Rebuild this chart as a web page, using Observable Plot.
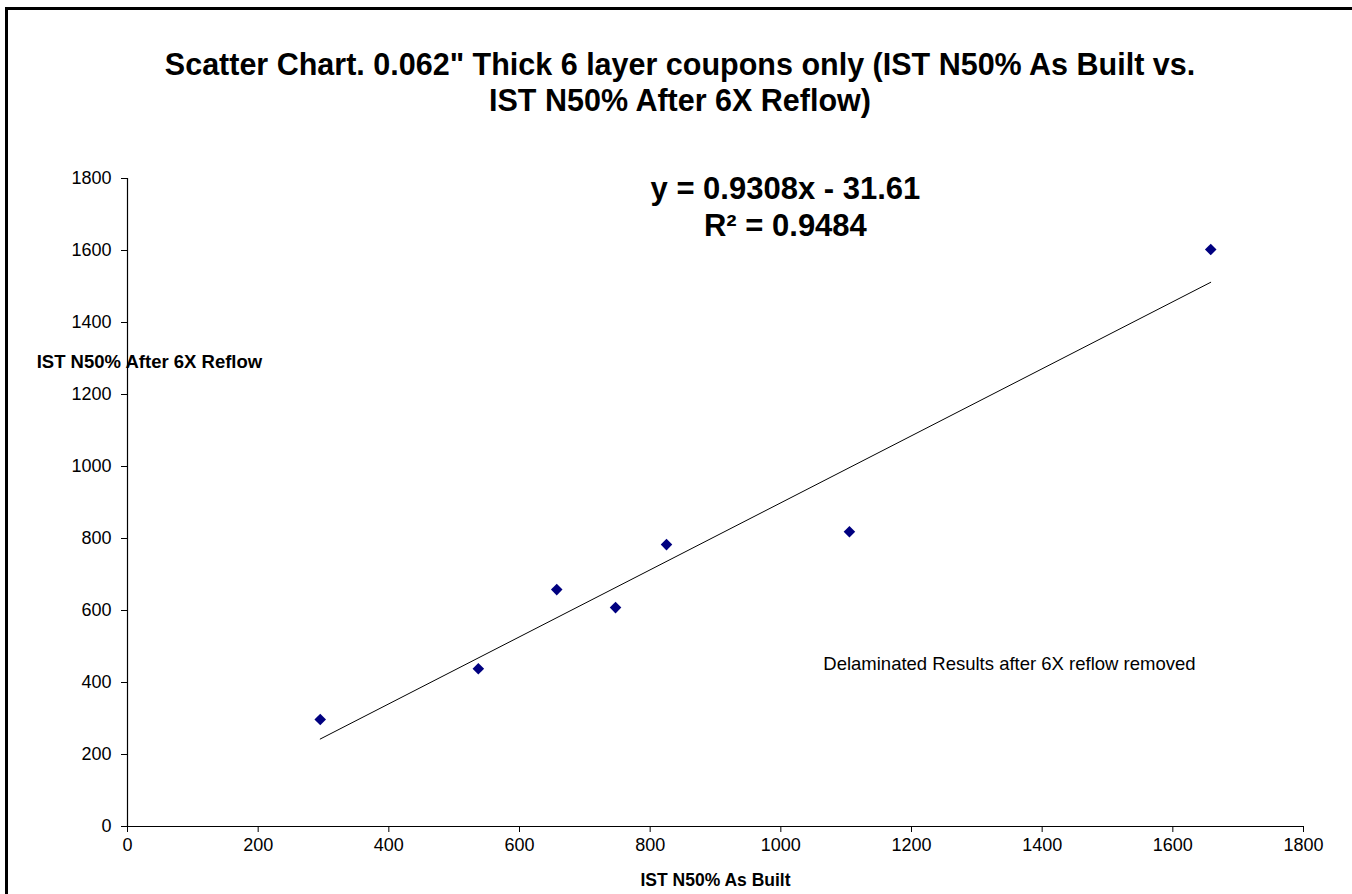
<!DOCTYPE html>
<html>
<head>
<meta charset="utf-8">
<script src="https://cdn.jsdelivr.net/npm/d3@7"></script>
<script src="https://cdn.jsdelivr.net/npm/@observablehq/plot@0.6"></script>
<style>
  html, body { margin: 0; padding: 0; background: #fff; overflow: hidden; }
  body { width: 1352px; height: 894px; position: relative; font-family: "Liberation Sans", Arial, sans-serif; }
  #frame { position: absolute; left: 5px; top: 7px; width: 2000px; height: 2000px; border: 3px solid #000; box-sizing: border-box; pointer-events: none; }
  #title { position: absolute; left: 0; top: 0; width: 1360px; height: 140px; text-align: center; font-weight: bold; font-size: 30.5px; line-height: 36px; padding-top: 46px; box-sizing: border-box; color: #000; }
  #chart { position: absolute; left: 0; top: 140px; }
</style>
</head>
<body>
<div id="frame"></div>
<div id="title">Scatter Chart. 0.062" Thick 6 layer coupons only (IST N50% As Built vs.<br>IST N50% After 6X Reflow)</div>
<div id="chart"></div>
<script>
// Data
const asBuilt      = [295, 537, 657, 747, 825, 1105, 1658];
const after6x      = [297, 438, 658, 608, 783, 819, 1603];
const xTicks       = [0, 200, 400, 600, 800, 1000, 1200, 1400, 1600, 1800];
const yTicks       = [0, 200, 400, 600, 800, 1000, 1200, 1400, 1600, 1800];
const trendSlope   = 0.9308;
const trendIntercept = -31.61;
const xLabel = "IST N50% As Built";
const yLabel = "IST N50% After 6X Reflow";
const eqLine1 = "y = 0.9308x - 31.61";
const eqLine2 = "R² = 0.9484";
const note = "Delaminated Results after 6X reflow removed";

const points = asBuilt.map((x, i) => ({x, y: after6x[i]}));
const xMin = d3.min(asBuilt), xMax = d3.max(asBuilt);
const trend = [xMin, xMax].map(x => ({x, y: trendSlope * x + trendIntercept}));

const font = "'Liberation Sans', Arial, sans-serif";
const fmt = d => String(d);

const chart = Plot.plot({
  width: 1352,
  height: 754,
  marginLeft: 127,
  marginRight: 49,
  marginTop: 38,
  marginBottom: 68,
  style: {fontFamily: font, fontSize: "18px", background: "transparent", color: "#000"},
  x: {domain: [0, 1800], label: null},
  y: {domain: [0, 1800], label: null},
  marks: [
    Plot.axisX({ticks: xTicks, tickFormat: fmt, tickSize: 6, tickPadding: 6, label: null, fontSize: 18}),
    Plot.axisY({ticks: yTicks, tickFormat: fmt, tickSize: 6, tickPadding: 10, label: null, fontSize: 18}),
    Plot.ruleX([0], {stroke: "#000", strokeWidth: 1.2}),
    Plot.ruleY([0], {stroke: "#000", strokeWidth: 1.2}),
    Plot.line(trend, {x: "x", y: "y", stroke: "#000", strokeWidth: 1}),
    Plot.dot(points, {x: "x", y: "y", symbol: "diamond2", r: 5.2, fill: "#000080", stroke: "none"}),
    Plot.text([eqLine1], {x: 1007, y: 1772, text: d => d, fontSize: 31, fontWeight: "bold", textAnchor: "middle", fill: "#000"}),
    Plot.text([eqLine2], {x: 1007, y: 1667, text: d => d, fontSize: 31, fontWeight: "bold", textAnchor: "middle", fill: "#000"}),
    Plot.text([note], {x: 1065, y: 450, text: d => d, fontSize: 18.5, textAnchor: "start", fill: "#000"}),
    Plot.text([yLabel], {x: -139, y: 1289, text: d => d, fontSize: 18.5, fontWeight: "bold", textAnchor: "start", fill: "#000"}),
    Plot.text([xLabel], {frameAnchor: "bottom", dy: 59, text: d => d, fontSize: 17.5, fontWeight: "bold", textAnchor: "middle", fill: "#000"})
  ]
});
document.getElementById("chart").appendChild(chart);
</script>
</body>
</html>
